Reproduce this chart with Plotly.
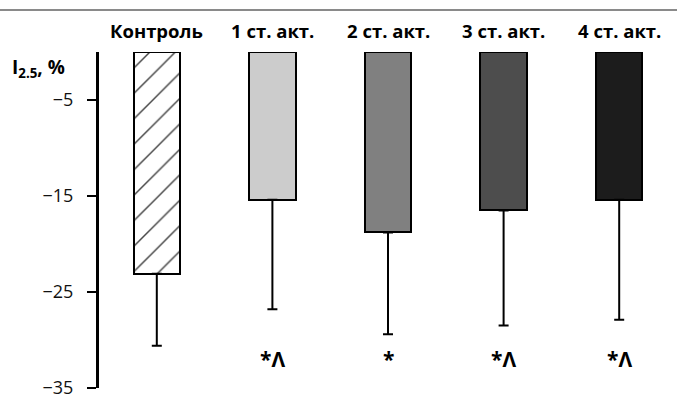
import plotly.graph_objects as go

groups = ["Контроль", "1 ст. акт.", "2 ст. акт.", "3 ст. акт.", "4 ст. акт."]
means = [-23.1, -15.4, -18.8, -16.5, -15.4]
err_low = [-30.6, -26.8, -29.4, -28.5, -27.9]
marks = ["", "*Λ", "*", "*Λ", "*Λ"]
y_ticks = [-5, -15, -25, -35]

fills = ["white", "#cccccc", "#808080", "#4d4d4d", "#1c1c1c"]
W, H = 677, 401
FONT = "Open Sans"

x = list(range(len(groups)))
fig = go.Figure()
fig.add_trace(go.Bar(
    x=x, y=means, width=0.4,
    marker=dict(
        color=fills,
        line=dict(color="black", width=2),
        pattern=dict(shape=["/", "", "", "", ""], size=18, solidity=0.08,
                     fgcolor="black", fgopacity=1, fillmode="overlay"),
    ),
    error_y=dict(type="data", symmetric=False,
                 array=[0] * len(means),
                 arrayminus=[m - e for m, e in zip(means, err_low)],
                 color="black", thickness=2, width=5),
    showlegend=False,
))

ann = []
for i, g in enumerate(groups):
    ann.append(dict(x=i, y=1 - 30 / H, xref="x", yref="paper", yanchor="middle",
                    text=f"<b>{g}</b>", showarrow=False,
                    font=dict(family=FONT, size=18.5, color="black")))
    if marks[i]:
        ann.append(dict(x=i, y=1 - 359 / H, xref="x", yref="paper", yanchor="middle",
                        text=f"<b>{marks[i]}</b>", showarrow=False,
                        font=dict(family=FONT, size=21, color="black")))
ann.append(dict(x=10 / W, xanchor="left", y=1 - 68 / H, yanchor="middle",
                xref="paper", yref="paper",
                text="<b>I<sub>2.5</sub>, %</b>", showarrow=False,
                font=dict(family=FONT, size=19, color="black")))

fig.update_layout(
    width=W, height=H, margin=dict(l=0, r=0, t=0, b=0),
    paper_bgcolor="white", plot_bgcolor="white",
    xaxis=dict(domain=[99 / W, 1], range=[-0.5, 4.5], showticklabels=False,
               showline=False, showgrid=False, zeroline=False, ticks="",
               automargin=False),
    yaxis=dict(domain=[1 - 388 / H, 1 - 52 / H], range=[-35, 0],
               tickvals=y_ticks, ticktext=[f"\u2212{abs(v)}" for v in y_ticks],
               showline=True, linecolor="black", linewidth=3,
               ticks="outside", ticklen=9, tickwidth=2, tickcolor="black",
               ticklabelstandoff=10,
               showgrid=False, zeroline=False, automargin=False,
               tickfont=dict(family=FONT, size=18, color="#111")),
    annotations=ann,
    shapes=[dict(type="line", xref="paper", yref="paper", x0=0, x1=1,
                 y0=1 - 10 / H, y1=1 - 10 / H, line=dict(color="#8a8a8a", width=2))],
    bargap=0,
)
fig.write_html("out.html")
